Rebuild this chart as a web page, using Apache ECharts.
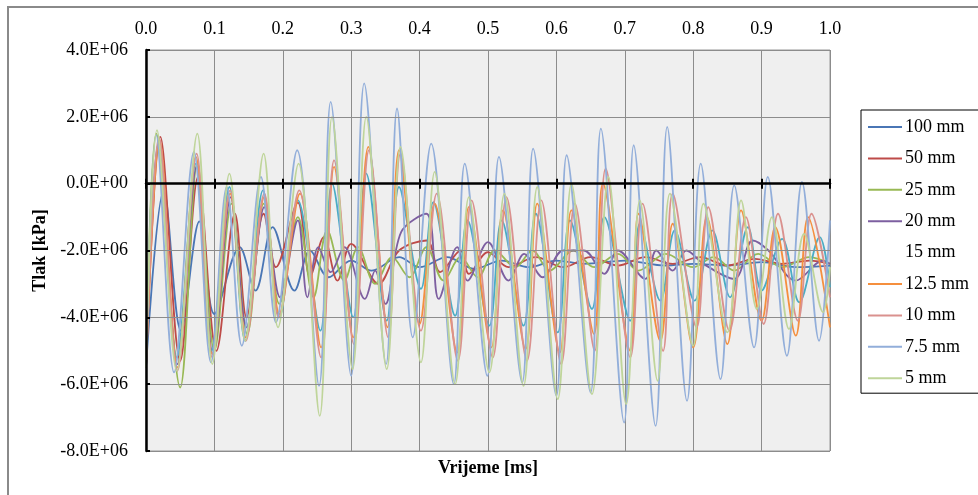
<!DOCTYPE html>
<html><head><meta charset="utf-8">
<script src="https://cdn.jsdelivr.net/npm/echarts@6/dist/echarts.min.js"></script>
<style>html,body{margin:0;padding:0;background:#fff}#c{width:978px;height:495px}</style>
</head><body><div id="c"></div>
<script>
// values in units of 1E+06 kPa, time in ms
const seriesNames = ['100 mm','50 mm','25 mm','20 mm','15 mm','12.5 mm','10 mm','7.5 mm','5 mm'];
const xTicks = [0,0.1,0.2,0.3,0.4,0.5,0.6,0.7,0.8,0.9,1.0];
const yTicks = [-8e6,-6e6,-4e6,-2e6,0,2e6,4e6];

const d100 = [[0,-5.5],[0.026,-0.2],[0.051,-4.4],[0.078,-1.13],[0.100,-3.9],[0.137,-1.9],[0.160,-3.2],[0.185,-1.3],[0.217,-3.2],[0.240,-2.0],[0.267,-2.8],[0.300,-2.3],[0.330,-2.6],[0.370,-2.2],[0.400,-2.5],[0.440,-2.2],[0.480,-2.55],[0.520,-2.3],[0.560,-2.5],[0.600,-2.3],[0.640,-2.4],[0.700,-2.3],[0.760,-2.45],[0.800,-2.4],[0.850,-2.45],[0.900,-2.35],[0.950,-2.5],[1.0,-2.45]];
const d50 = [[0,-5.5],[0.021,1.4],[0.050,-5.3],[0.076,0.2],[0.103,-5.0],[0.130,-0.9],[0.147,-4.0],[0.172,-0.9],[0.190,-2.5],[0.222,-0.57],[0.240,-2.8],[0.260,-1.6],[0.280,-2.9],[0.300,-1.8],[0.340,-3.0],[0.370,-2.0],[0.410,-1.7],[0.430,-2.65],[0.460,-2.0],[0.472,-2.7],[0.500,-2.05],[0.530,-2.5],[0.570,-2.2],[0.610,-2.5],[0.650,-2.2],[0.690,-2.45],[0.730,-2.2],[0.770,-2.4],[0.810,-2.2],[0.850,-2.45],[0.890,-2.25],[0.930,-2.4],[0.970,-2.3],[1.0,-2.4]];
const d25 = [[0,-5.5],[0.015,1.5],[0.050,-6.1],[0.075,0.6],[0.100,-5.0],[0.125,-0.6],[0.148,-4.5],[0.172,-0.6],[0.195,-3.6],[0.222,-1.0],[0.245,-3.4],[0.265,-1.4],[0.290,-2.9],[0.310,-1.9],[0.335,-3.0],[0.360,-2.2],[0.385,-2.8],[0.410,-1.9],[0.435,-2.9],[0.460,-2.2],[0.485,-2.8],[0.510,-2.0],[0.540,-2.5],[0.565,-2.0],[0.590,-2.6],[0.625,-2.0],[0.655,-2.5],[0.690,-2.1],[0.720,-2.6],[0.760,-2.1],[0.800,-2.5],[0.830,-2.2],[0.860,-2.6],[0.895,-2.1],[0.930,-2.5],[0.970,-2.2],[1.0,-2.4]];
const d20 = [[0,-5.5],[0.018,1.2],[0.046,-5.4],[0.074,0.5],[0.098,-5.1],[0.124,-0.4],[0.147,-4.3],[0.173,-0.7],[0.196,-3.4],[0.222,-1.1],[0.236,-3.4],[0.252,-1.9],[0.270,-2.65],[0.290,-1.9],[0.320,-3.45],[0.335,-2.6],[0.350,-3.6],[0.373,-1.45],[0.410,-0.9],[0.428,-3.45],[0.455,-1.9],[0.470,-2.9],[0.500,-1.75],[0.530,-2.9],[0.553,-2.1],[0.580,-2.8],[0.610,-2.0],[0.640,-2.0],[0.670,-2.7],[0.690,-2.0],[0.730,-2.85],[0.746,-2.0],[0.770,-2.6],[0.790,-2.0],[0.815,-2.4],[0.860,-2.85],[0.887,-1.7],[0.910,-2.0],[0.950,-2.9],[0.990,-2.3],[1.0,-2.4]];
const d15 = [[0,-5.5],[0.018,1.0],[0.045,-5.2],[0.073,0.6],[0.096,-5.0],[0.122,-0.1],[0.145,-4.7],[0.171,-0.2],[0.195,-4.0],[0.222,-0.5],[0.255,-4.4],[0.272,0.0],[0.303,-4.0],[0.322,0.3],[0.352,-4.1],[0.370,-0.1],[0.402,-3.15],[0.420,-0.55],[0.452,-3.95],[0.470,-1.1],[0.502,-4.25],[0.520,-1.1],[0.552,-4.25],[0.570,-0.9],[0.602,-4.45],[0.620,-1.1],[0.652,-3.75],[0.670,-1.0],[0.708,-4.1],[0.722,-1.2],[0.752,-3.5],[0.773,-1.4],[0.802,-3.5],[0.828,-1.4],[0.854,-3.4],[0.880,-1.3],[0.900,-3.2],[0.930,-1.65],[0.955,-3.55],[0.985,-1.6],[1.0,-3.1]];
const d125 = [[0,-5.5],[0.020,1.3],[0.046,-5.5],[0.073,0.8],[0.097,-5.1],[0.123,-0.3],[0.146,-4.6],[0.173,-0.4],[0.195,-3.9],[0.225,-0.3],[0.256,-4.9],[0.275,0.5],[0.303,-4.6],[0.325,1.1],[0.353,-4.3],[0.370,1.0],[0.400,-4.2],[0.422,-0.6],[0.455,-5.05],[0.472,-0.7],[0.505,-4.9],[0.522,-0.8],[0.555,-4.95],[0.572,-0.6],[0.605,-5.05],[0.622,-0.8],[0.655,-4.5],[0.668,0.0],[0.708,-5.0],[0.720,-0.9],[0.752,-4.7],[0.770,-1.2],[0.800,-4.9],[0.820,-1.0],[0.850,-4.8],[0.870,-0.8],[0.900,-4.1],[0.920,-1.3],[0.950,-4.55],[0.968,-1.0],[1.0,-4.3]];
const d10 = [[0,-5.5],[0.019,1.4],[0.046,-5.6],[0.074,0.9],[0.097,-5.2],[0.123,-0.2],[0.146,-4.7],[0.173,-0.3],[0.194,-4.0],[0.224,-0.2],[0.256,-5.2],[0.275,0.7],[0.304,-4.8],[0.326,1.0],[0.354,-4.6],[0.372,0.9],[0.402,-4.4],[0.425,-0.3],[0.456,-5.3],[0.476,-0.5],[0.507,-5.2],[0.527,-0.4],[0.557,-5.3],[0.578,-0.5],[0.607,-5.4],[0.627,-0.6],[0.656,-5.0],[0.672,0.45],[0.708,-5.2],[0.726,-0.6],[0.756,-5.0],[0.770,-0.3],[0.805,-4.3],[0.822,-0.7],[0.853,-4.4],[0.877,-1.0],[0.903,-4.2],[0.924,-0.9],[0.953,-4.1],[0.973,-0.9],[1.0,-3.4]];
const d75 = [[0,-5.5],[0.015,1.45],[0.041,-5.65],[0.070,0.95],[0.095,-5.35],[0.118,-0.1],[0.140,-4.85],[0.168,0.2],[0.190,-4.15],[0.221,1.0],[0.253,-6.05],[0.270,2.45],[0.300,-5.75],[0.319,3.0],[0.351,-5.4],[0.367,2.25],[0.390,-4.6],[0.417,1.2],[0.450,-6.0],[0.466,0.6],[0.499,-5.75],[0.516,0.8],[0.550,-5.95],[0.566,1.05],[0.600,-6.35],[0.615,0.85],[0.650,-6.25],[0.665,1.65],[0.699,-7.15],[0.713,1.15],[0.745,-7.25],[0.762,1.7],[0.791,-6.5],[0.811,0.6],[0.840,-5.85],[0.860,-0.05],[0.889,-4.9],[0.909,0.2],[0.937,-5.15],[0.959,0.05],[0.984,-4.7],[1.0,-1.1]];
const d5 = [[0,-5.5],[0.016,1.6],[0.045,-5.6],[0.075,1.5],[0.097,-5.4],[0.122,0.3],[0.145,-4.7],[0.172,0.9],[0.193,-4.3],[0.223,0.6],[0.254,-6.95],[0.272,2.0],[0.302,-5.55],[0.322,2.0],[0.352,-5.55],[0.372,1.1],[0.402,-5.35],[0.422,0.35],[0.452,-6.0],[0.472,-0.4],[0.502,-5.65],[0.524,-0.3],[0.552,-6.05],[0.572,-0.1],[0.602,-6.45],[0.622,0.0],[0.652,-6.3],[0.676,0.2],[0.702,-6.6],[0.722,-0.5],[0.748,-5.9],[0.766,-0.3],[0.800,-4.85],[0.815,-0.6],[0.850,-4.45],[0.870,-0.5],[0.893,-3.75],[0.915,-1.0],[0.940,-4.35],[0.962,-1.5],[0.990,-3.85],[1.0,-2.5]];

const dataSets = [d100,d50,d25,d20,d15,d125,d10,d75,d5];
const colors = ['#4A76B5','#BE4B48','#98B954','#7D5FA0','#4AACC5','#F58F3E','#DA918E','#92AEDA','#BFD59A'];
const UNIT = 1e6;

const FONT = '"Liberation Serif","Times New Roman",serif';
function expFmt(v){
  if (v === 0) return '0.0E+00';
  const e = Math.floor(Math.log10(Math.abs(v)) + 1e-9);
  const m = v / Math.pow(10, e);
  return m.toFixed(1) + 'E+' + String(e).padStart(2, '0');
}

const chart = echarts.init(document.getElementById('c'), null, {renderer:'canvas'});
const series = seriesNames.map((n,i)=>({
  name:n, type:'line', xAxisIndex:0, yAxisIndex:0, symbol:'none', smooth:0.35,
  data: dataSets[i].map(p=>[p[0], p[1]*UNIT]),
  lineStyle:{width:1.8, color:colors[i]}, itemStyle:{color:colors[i]}
}));
const baseX = {type:'value', min:0, max:1, interval:0.1, gridIndex:0};
chart.setOption({
  animation:false,
  backgroundColor:'#fff',
  color:colors,
  grid:{left:146, right:148, top:50, bottom:44, show:true, backgroundColor:'#EFEFEF', borderColor:'#999', borderWidth:1},
  graphic:[{type:'rect', shape:{x:8,y:7,width:1000,height:520}, style:{fill:'none', stroke:'#8a8a8a', lineWidth:2}, silent:true}],
  legend:{
    orient:'vertical', left:861, top:110, itemWidth:34, itemHeight:2, itemGap:13.4,
    padding:[8,40,6,7], borderColor:'#000', borderWidth:1, backgroundColor:'#fff',
    icon:'rect',
    textStyle:{fontFamily:FONT, fontSize:18, color:'#000', padding:[0,0,0,-2]},
    data: seriesNames.map((n,i) => n === '15 mm'
      ? {name:n, itemStyle:{opacity:0, color:'rgba(0,0,0,0)'}}
      : {name:n, itemStyle:{color:colors[i]}})
  },
  xAxis:[
    Object.assign({}, baseX, {position:'top', axisLine:{show:false}, axisTick:{show:false},
      axisLabel:{fontFamily:FONT, fontSize:18, color:'#000', margin:12, formatter:v=>v.toFixed(1)},
      splitLine:{show:true, lineStyle:{color:'#8c8c8c', width:1}}}),
    Object.assign({}, baseX, {position:'bottom', z:10, axisLine:{show:true, onZero:true, onZeroAxisIndex:0, lineStyle:{color:'#000', width:2.5}},
      axisTick:{show:true, inside:false, length:5, lineStyle:{color:'#000', width:2}}, axisLabel:{show:false}, splitLine:{show:false}}),
    Object.assign({}, baseX, {position:'bottom', z:10, axisLine:{show:false, onZero:true, onZeroAxisIndex:0},
      axisTick:{show:true, inside:true, length:5, lineStyle:{color:'#000', width:2}}, axisLabel:{show:false}, splitLine:{show:false}}),
    Object.assign({}, baseX, {position:'bottom', axisLine:{show:false, onZero:false}, axisTick:{show:false}, axisLabel:{show:false}, splitLine:{show:false},
      name:'Vrijeme [ms]', nameLocation:'middle', nameGap:8, nameTextStyle:{fontFamily:FONT, fontSize:18, fontWeight:'bold', color:'#000'}})
  ],
  yAxis:[{
    type:'value', min:yTicks[0], max:yTicks[yTicks.length-1], interval:2e6, position:'left', z:10,
    axisLine:{show:true, onZero:false, lineStyle:{color:'#000', width:2.5}},
    axisTick:{show:true, inside:true, length:4, lineStyle:{color:'#000', width:2}},
    axisLabel:{fontFamily:FONT, fontSize:18, color:'#000', margin:18, formatter:expFmt},
    splitLine:{show:true, lineStyle:{color:'#8c8c8c', width:1}},
    name:'Tlak [kPa]', nameLocation:'middle', nameGap:97, nameRotate:90,
    nameTextStyle:{fontFamily:FONT, fontSize:18, fontWeight:'bold', color:'#000'}
  }],
  series: series
});
</script></body></html>
